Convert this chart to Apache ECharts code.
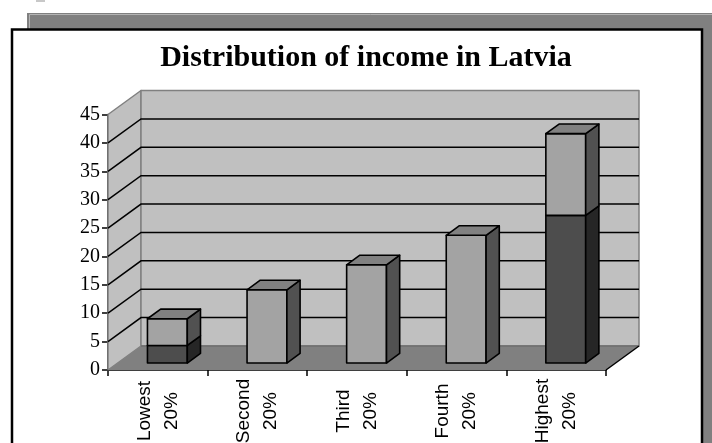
<!DOCTYPE html>
<html>
<head>
<meta charset="utf-8">
<script src="https://cdn.jsdelivr.net/npm/echarts@6/dist/echarts.min.js"></script>
<style>
  html, body { margin: 0; padding: 0; background: #fff; }
  #chart { width: 712px; height: 443px; }
</style>
</head>
<body>
<div id="chart"></div>
<script>
// Income quintiles (x axis categories)
const categories = ['Lowest\n20%', 'Second\n20%', 'Third\n20%', 'Fourth\n20%', 'Highest\n20%'];
// Share of total income held by each quintile, %
const quintileShare = [7.8, 12.9, 17.3, 22.5, 40.4];
// Share held by the poorest / richest tenth within the outer quintiles, %
const decileShare = [3.1, null, null, null, 26.0];
// Value axis
const yMax = 45;
const yStep = 5;
const gridValues = [5, 10, 15, 20, 25, 30, 35, 40];

// Oblique projection of the box: offset of the back plane from the front plane
const DEPTH_X = 33;
const DEPTH_Y = -24;
const BAR_FRONT = 0.29;   // where the bars start, as a fraction of depth
const BAR_DEPTH = 0.40;   // how deep the bars are
const BAR_WIDTH = 0.40;   // fraction of the category band

const WALL = '#c0c0c0';
const WALL_EDGE = '#808080';
const FLOOR = '#808080';
const LIGHT = { front: '#a3a3a3', top: '#818181', side: '#515151' };
const DARK = { front: '#4d4d4d', top: '#3a3a3a', side: '#262626' };

function poly(points, fill, stroke, lw) {
  return {
    type: 'polygon',
    shape: { points: points },
    style: { fill: fill, stroke: stroke || 'none', lineWidth: lw || 0, lineJoin: 'round' }
  };
}
function line(points, stroke, lw) {
  return {
    type: 'polyline',
    shape: { points: points },
    style: { fill: 'none', stroke: stroke, lineWidth: lw }
  };
}

// Floor, side wall and back wall of the plot box
function renderRoom(params, api) {
  const cs = params.coordSys;
  const x0 = cs.x, x1 = cs.x + cs.width;
  const yb = api.coord([0, 0])[1];
  const yt = api.coord([0, yMax])[1];
  const dx = DEPTH_X, dy = DEPTH_Y;
  return {
    type: 'group',
    children: [
      poly([[x0, yb], [x0 + dx, yb + dy], [x0 + dx, yt + dy], [x0, yt]], WALL, WALL_EDGE, 1.5),
      poly([[x0 + dx, yb + dy], [x1 + dx, yb + dy], [x1 + dx, yt + dy], [x0 + dx, yt + dy]], WALL, WALL_EDGE, 1.5),
      poly([[x0, yb], [x1, yb], [x1 + dx, yb + dy], [x0 + dx, yb + dy]], FLOOR),
      line([[x0 + dx, yb + dy], [x1 + dx, yb + dy]], '#6e6e6e', 1.5),
      line([[x1, yb], [x1 + dx, yb + dy]], '#000', 1.5)
    ]
  };
}

// Gridline running across the side wall and along the back wall
function renderGridline(params, api) {
  const cs = params.coordSys;
  const x0 = cs.x, x1 = cs.x + cs.width;
  const y = api.coord([0, api.value(1)])[1];
  return line([[x0, y], [x0 + DEPTH_X, y + DEPTH_Y], [x1 + DEPTH_X, y + DEPTH_Y]], '#000', 1.5);
}

// One 3D column, split into a dark lower block where a decile share is given
function renderColumn(params, api) {
  const idx = api.value(0);
  const total = api.value(1);
  const dec = api.value(2);
  const center = api.coord([idx, 0]);
  const w = api.size([1, 0])[0] * BAR_WIDTH;
  const fdx = DEPTH_X * BAR_FRONT, fdy = DEPTH_Y * BAR_FRONT;
  const ddx = DEPTH_X * BAR_DEPTH, ddy = DEPTH_Y * BAR_DEPTH;
  const fx = center[0] - w / 2 + fdx;
  const segments = [];
  if (isFinite(dec) && dec > 0) {
    segments.push([0, dec, DARK]);
    segments.push([dec, total, LIGHT]);
  } else {
    segments.push([0, total, LIGHT]);
  }
  const children = [];
  segments.forEach(function (seg, k) {
    const yLo = api.coord([idx, seg[0]])[1] + fdy;
    const yHi = api.coord([idx, seg[1]])[1] + fdy;
    const c = seg[2];
    children.push(poly([[fx, yHi], [fx + w, yHi], [fx + w, yLo], [fx, yLo]], c.front, '#000', 1.6));
    children.push(poly([[fx + w, yLo], [fx + w + ddx, yLo + ddy], [fx + w + ddx, yHi + ddy], [fx + w, yHi]], c.side, '#000', 1.6));
    if (k === segments.length - 1) {
      children.push(poly([[fx, yHi], [fx + ddx, yHi + ddy], [fx + w + ddx, yHi + ddy], [fx + w, yHi]], c.top, '#000', 1.6));
    }
  });
  return { type: 'group', children: children };
}

const chart = echarts.init(document.getElementById('chart'), null, { renderer: 'canvas' });

chart.setOption({
  animation: false,
  backgroundColor: '#fff',
  title: {
    text: 'Distribution of income in Latvia',
    left: 361,
    top: 38,
    textAlign: 'center',
    textStyle: {
      fontFamily: 'Liberation Serif',
      fontWeight: 'bold',
      fontSize: 30,
      color: '#000'
    }
  },
  graphic: {
    elements: [
      { type: 'rect', z: -100, shape: { x: 36, y: 0, width: 9, height: 2 }, style: { fill: '#c8c8c8' } },
      { type: 'rect', z: -100, shape: { x: 27, y: 13, width: 700, height: 450 }, style: { fill: '#808080' } },
      { type: 'polyline', z: -99, shape: { points: [[29.5, 460], [29.5, 14.5], [712, 14.5]] }, style: { stroke: '#b4b4b4', lineWidth: 1, fill: 'none' } },
      { type: 'rect', z: -98, shape: { x: 12, y: 29.5, width: 690, height: 440 }, style: { fill: '#fff', stroke: '#000', lineWidth: 2.5 } }
    ]
  },
  grid: {
    left: 108,
    right: 106,
    top: 114.5,
    bottom: 73,
    containLabel: false,
    outerBoundsMode: 'none'
  },
  xAxis: {
    type: 'category',
    data: categories,
    boundaryGap: true,
    axisLine: { show: true, lineStyle: { color: '#000', width: 1.5 } },
    axisTick: { show: true, alignWithLabel: false, length: 6, lineStyle: { color: '#000', width: 1.5 } },
    axisLabel: {
      rotate: 90,
      align: 'center',
      verticalAlign: 'middle',
      margin: 41,
      fontFamily: 'Liberation Sans',
      fontSize: 19,
      lineHeight: 27,
      color: '#000'
    },
    splitLine: { show: false }
  },
  yAxis: {
    type: 'value',
    min: 0,
    max: yMax,
    interval: yStep,
    axisLine: { show: true, lineStyle: { color: '#000', width: 1.5 } },
    axisTick: { show: true, length: 6, lineStyle: { color: '#000', width: 1.5 } },
    axisLabel: {
      margin: 8,
      fontFamily: 'Liberation Serif',
      fontSize: 20,
      color: '#000'
    },
    splitLine: { show: false }
  },
  series: [
    {
      name: 'room',
      type: 'custom',
      renderItem: renderRoom,
      data: [[0, 0]],
      encode: { x: 0, y: 1 },
      silent: true,
      z: 1
    },
    {
      name: 'gridlines',
      type: 'custom',
      renderItem: renderGridline,
      data: gridValues.map(function (v) { return [0, v]; }),
      encode: { x: 0, y: 1 },
      silent: true,
      z: 1
    },
    {
      name: 'Income share',
      type: 'custom',
      renderItem: renderColumn,
      data: categories.map(function (c, i) {
        return [i, quintileShare[i], decileShare[i] === null ? '-' : decileShare[i]];
      }),
      encode: { x: 0, y: 1 },
      z: 3
    }
  ]
});
</script>
</body>
</html>
